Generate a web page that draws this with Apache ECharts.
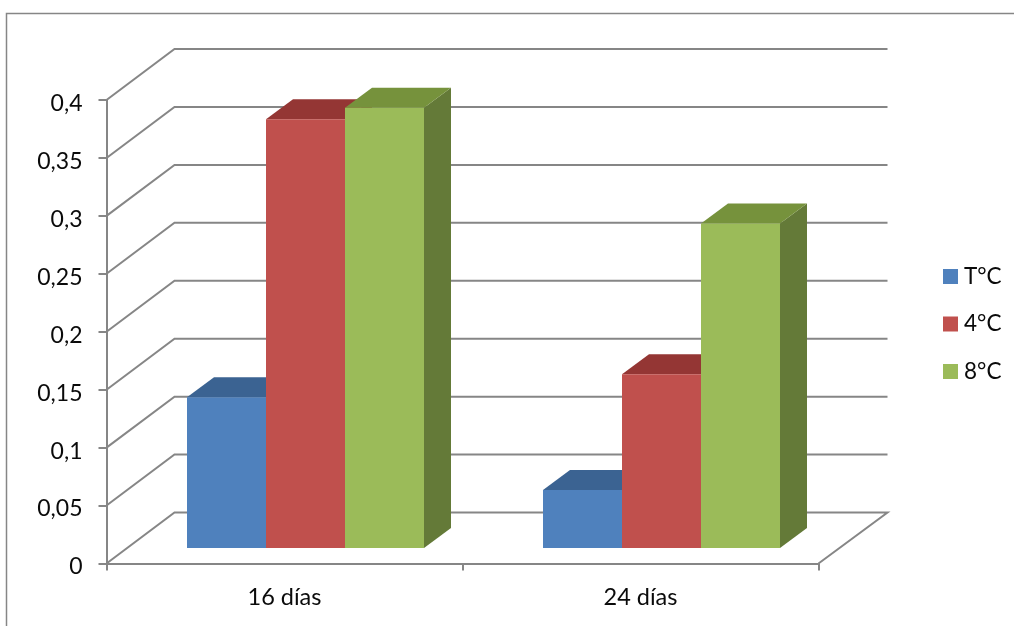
<!DOCTYPE html>
<html>
<head>
<meta charset="utf-8">
<style>html,body{margin:0;padding:0;background:#fff}#chart{width:1014px;height:626px}</style>
<script src="https://cdn.jsdelivr.net/npm/echarts@6/dist/echarts.min.js"></script>
</head>
<body>
<div id="chart"></div>
<script>
// Chart data
const categories = ['16 días', '24 días'];
const seriesNames = ['T°C', '4°C', '8°C'];
const valuesT = [0.13, 0.05];
const values4 = [0.37, 0.15];
const values8 = [0.38, 0.28];
const yTicks = [0, 0.05, 0.1, 0.15, 0.2, 0.25, 0.3, 0.35, 0.4];

// Face colours of each bar family: front, top, side
const faces = [
  ['#4F81BD', '#3B6392', '#2E4D73'],
  ['#C0504D', '#943634', '#772C2A'],
  ['#9BBB59', '#76923C', '#647A38']
];

const GRID_COLOR = '#868686';
const FONT = 'Lato, "Open Sans", sans-serif';
const TEXT_COLOR = '#0a0a0a';

// Oblique projection used for the fake 3D box
const WALL_DX = 68, WALL_DY = -51;       // floor depth
const WALL_RIGHT_EXTRA = 1;              // back wall runs slightly past the floor's front corner
const BAR_IN_DX = 21, BAR_IN_DY = -15.5; // bars stand slightly inside the floor
const BAR_DX = 27, BAR_DY = -20;         // bar depth
const BAR_WIDTH_RATIO = 79 / 356;

function renderWallLine(params, api) {
  const rect = params.coordSys;
  const y = api.coord([0, api.value(0)])[1];
  const left = rect.x, right = rect.x + rect.width;
  const backRight = right + WALL_DX + WALL_RIGHT_EXTRA;
  const pts = [[left, y], [left + WALL_DX, y + WALL_DY], [backRight, y + WALL_DY]];
  // The floor also closes along its right edge
  if (api.value(0) === 0) pts.push([right, y]);
  return {
    type: 'polyline',
    shape: { points: pts },
    style: { fill: 'none', stroke: GRID_COLOR, lineWidth: 2 }
  };
}

function barRenderer(seriesIndex) {
  return function (params, api) {
    const cat = api.value(0);
    const base = api.coord([cat, 0]);
    const top = api.coord([cat, api.value(1)]);
    const w = api.size([1, 0])[0] * BAR_WIDTH_RATIO;
    const x0 = base[0] - 1.5 * w + seriesIndex * w + BAR_IN_DX;
    const x1 = x0 + w;
    const yb = base[1] + BAR_IN_DY;
    const yt = top[1] + BAR_IN_DY;
    const c = faces[seriesIndex];
    const poly = (points, fill) => ({
      type: 'polygon', shape: { points },
      style: { fill, stroke: null }
    });
    return {
      type: 'group',
      children: [
        poly([[x1, yb], [x1 + BAR_DX, yb + BAR_DY], [x1 + BAR_DX, yt + BAR_DY], [x1, yt]], c[2]),
        poly([[x0, yt], [x0 + BAR_DX, yt + BAR_DY], [x1 + BAR_DX, yt + BAR_DY], [x1, yt]], c[1]),
        poly([[x0, yb], [x0, yt], [x1, yt], [x1, yb]], c[0])
      ]
    };
  };
}

function barSeries(name, values, index) {
  return {
    type: 'custom',
    name,
    renderItem: barRenderer(index),
    data: values.map((v, i) => [i, v]),
    encode: { x: 0, y: 1 },
    itemStyle: { color: faces[index][0] },
    z: 3 + index,
    clip: false
  };
}

const chart = echarts.init(document.getElementById('chart'), null, { renderer: 'canvas' });
chart.setOption({
  animation: false,
  backgroundColor: '#ffffff',
  textStyle: { fontFamily: FONT },
  grid: { left: 106.5, right: 195.5, top: 100, bottom: 62.5, containLabel: false },
  graphic: [{
    type: 'polyline',
    silent: true,
    shape: { points: [[6.5, 626], [6.5, 13.5], [1014, 13.5]] },
    style: { fill: 'none', stroke: GRID_COLOR, lineWidth: 1.5 }
  }],
  legend: {
    data: seriesNames,
    orient: 'vertical',
    left: 938,
    top: 260,
    itemWidth: 15,
    itemHeight: 15,
    itemGap: 24.5,
    icon: 'rect',
    selectedMode: false,
    textStyle: { fontFamily: FONT, fontSize: 22.5, color: TEXT_COLOR, padding: [0, 0, 0, 1] }
  },
  xAxis: {
    type: 'category',
    data: categories,
    boundaryGap: true,
    axisLine: { lineStyle: { color: GRID_COLOR, width: 2 } },
    axisTick: { show: true, length: 7, lineStyle: { color: GRID_COLOR, width: 2 } },
    axisLabel: { fontFamily: FONT, fontSize: 23.5, color: TEXT_COLOR, margin: 22 },
    splitLine: { show: false }
  },
  yAxis: {
    type: 'value',
    min: 0,
    max: 0.4,
    interval: 0.05,
    axisLine: { show: true, lineStyle: { color: GRID_COLOR, width: 2 } },
    axisTick: { show: true, length: 8, lineStyle: { color: GRID_COLOR, width: 2 } },
    axisLabel: {
      color: TEXT_COLOR, margin: 24,
      formatter: v => '{n|' + String(v).replace('.', ',') + '}',
      // Extra space above the digits lowers them a little against the tick
      rich: { n: { fontFamily: FONT, fontSize: 23, color: TEXT_COLOR, padding: [7, 0, 0, 0] } }
    },
    splitLine: { show: false }
  },
  series: [
    {
      type: 'custom',
      renderItem: renderWallLine,
      data: yTicks.map(v => [v]),
      encode: { y: 0 },
      silent: true,
      z: 1,
      clip: false
    },
    barSeries(seriesNames[0], valuesT, 0),
    barSeries(seriesNames[1], values4, 1),
    barSeries(seriesNames[2], values8, 2)
  ]
});
</script>
</body>
</html>
